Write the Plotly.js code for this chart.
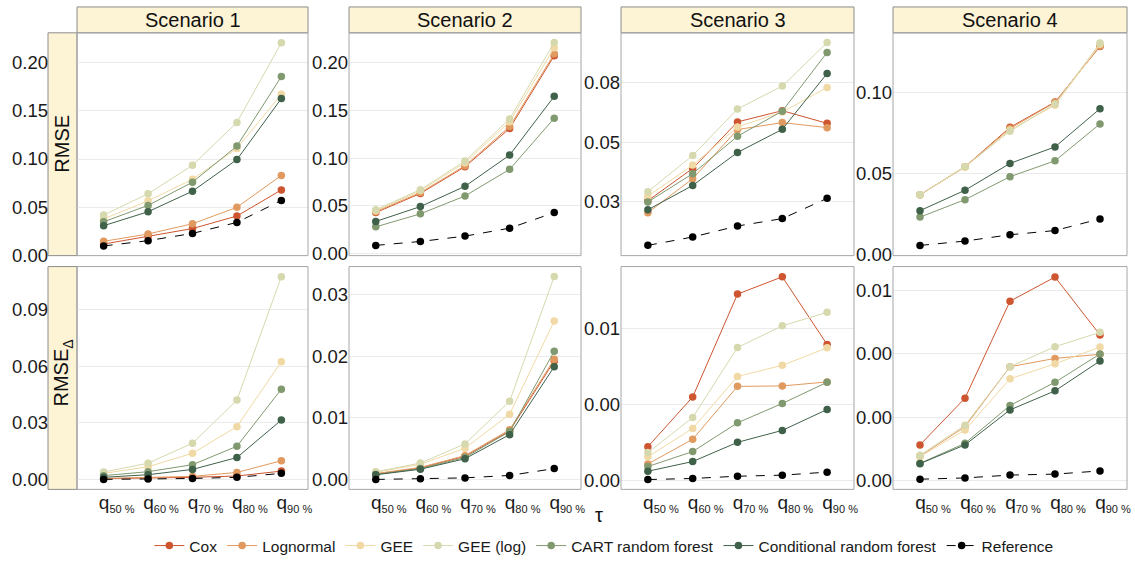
<!DOCTYPE html>
<html>
<head>
<meta charset="utf-8">
<script src="https://cdn.plot.ly/plotly-3.0.1.min.js"></script>
<style>html,body{margin:0;padding:0;background:#fff;}#chart{width:1135px;height:563px;}</style>
</head>
<body>
<div id="chart"></div>
<script>
// ---------- DATA ----------
const taus = ["50 %", "60 %", "70 %", "80 %", "90 %"];
const scenarios = ["Scenario 1", "Scenario 2", "Scenario 3", "Scenario 4"];
const metrics = ["RMSE", "RMSE<sub>Δ</sub>"];
const methods = ["Cox", "Lognormal", "GEE", "GEE (log)", "CART random forest", "Conditional random forest", "Reference"];

// RMSE, one row per scenario
const cox_rmse = [[0.012,0.020,0.028,0.041,0.068],[0.043,0.063,0.091,0.131,0.207],[0.0255,0.039,0.0585,0.0632,0.0579],[0.037,0.0543,0.0787,0.0943,0.1287]];
const lognormal_rmse = [[0.0148,0.0224,0.033,0.050,0.083],[0.044,0.064,0.092,0.133,0.209],[0.0205,0.0347,0.0553,0.0582,0.0561],[0.037,0.0543,0.078,0.094,0.129]];
const gee_rmse = [[0.038,0.0567,0.079,0.111,0.167],[0.045,0.066,0.095,0.138,0.2153],[0.0274,0.0404,0.0564,0.0626,0.0729],[0.037,0.054,0.0771,0.0923,0.130]];
const geelog_rmse = [[0.042,0.064,0.0935,0.1378,0.2203],[0.046,0.067,0.097,0.141,0.2208],[0.0293,0.0444,0.0639,0.0735,0.0917],[0.0371,0.0545,0.0763,0.0931,0.1308]];
const cart_rmse = [[0.035,0.052,0.076,0.1134,0.1853],[0.0281,0.0417,0.0604,0.0882,0.1417],[0.025,0.0368,0.0525,0.063,0.0876],[0.0232,0.034,0.0482,0.058,0.0808]];
const cond_rmse = [[0.031,0.0454,0.0667,0.0994,0.1626],[0.0337,0.0493,0.0705,0.1031,0.1646],[0.0217,0.0319,0.0457,0.0554,0.0788],[0.0272,0.0398,0.0564,0.0666,0.0902]];
const ref_rmse = [[0.010,0.0155,0.023,0.0344,0.0571],[0.0087,0.0128,0.0184,0.0267,0.043],[0.0068,0.0103,0.0149,0.018,0.0265],[0.0057,0.0084,0.0123,0.0149,0.0221]];

// RMSE_Delta, one row per scenario
const cox_delta = [[0.0004,0.0006,0.0011,0.0018,0.0044],[0.0009,0.0019,0.0038,0.0079,0.0192],[0.00221,0.0055,0.0123,0.01344,0.00897],[0.00113,0.0026,0.00565,0.00641,0.00459]];
const lognormal_delta = [[0.0005,0.0009,0.0016,0.0037,0.0099],[0.001,0.002,0.0039,0.0081,0.0195],[0.00107,0.0027,0.0062,0.00623,0.00649],[0.00078,0.0017,0.00359,0.00385,0.00398]];
const gee_delta = [[0.0032,0.0067,0.0139,0.028,0.0625],[0.0012,0.0025,0.0051,0.0106,0.0257],[0.00154,0.00342,0.00686,0.00759,0.00875],[0.00076,0.0016,0.00321,0.00368,0.00421]];
const geelog_delta = [[0.0039,0.0086,0.0192,0.0421,0.1076],[0.0013,0.0027,0.0058,0.0127,0.0329],[0.00182,0.00414,0.00877,0.0102,0.0111],[0.0008,0.00175,0.00359,0.00422,0.00467]];
const cart_delta = [[0.002,0.0041,0.0078,0.0176,0.0479],[0.00086,0.0018,0.0036,0.0078,0.0208],[0.0009,0.00189,0.00379,0.00507,0.00647],[0.00055,0.00118,0.00237,0.0031,0.00399]];
const cond_delta = [[0.0011,0.0025,0.0053,0.0116,0.0315],[0.0008,0.0017,0.0034,0.0073,0.0183],[0.00059,0.00123,0.0025,0.00329,0.00467],[0.00054,0.00113,0.00223,0.00283,0.00377]];
const ref_delta = [[0.0,0.0002,0.0005,0.0011,0.0032],[0.00005,0.00016,0.0003,0.0007,0.0018],[0.00004,0.00011,0.00026,0.00033,0.00053],[0.00005,0.00009,0.00018,0.00021,0.00031]];

// y tick values and labels (as printed, 2 decimals)
const rmse_tickvals = [[0,0.05,0.10,0.15,0.20],[0,0.05,0.10,0.15,0.20],[0.025,0.05,0.075],[0,0.05,0.10]];
const rmse_ticktext = [["0.00","0.05","0.10","0.15","0.20"],["0.00","0.05","0.10","0.15","0.20"],["0.03","0.05","0.08"],["0.00","0.05","0.10"]];
const delta_tickvals = [[0,0.03,0.06,0.09],[0,0.01,0.02,0.03],[0,0.005,0.01],[0,0.002,0.004,0.006]];
const delta_ticktext = [["0.00","0.03","0.06","0.09"],["0.00","0.01","0.02","0.03"],["0.00","0.00","0.01"],["0.00","0.00","0.00","0.01"]];

// ---------- STYLE ----------
const colors = ["#CD5530","#E0995E","#F0D9A4","#D6D8AE","#80996F","#3F6149","#000000"];
const FONT = "Liberation Sans, Arial, Helvetica, sans-serif";
const W = 1135, H = 563;
const colPx = [[77,308],[349,581],[621,854],[893,1127]];
const rowPx = [[33,257],[268,492]];
const yRanges = [
  [[0,0.2306],[-0.002,0.231],[0.0025,0.0958],[-0.0006,0.1371]],
  [[-0.0053,0.113],[-0.00156,0.0345],[-0.00061,0.01412],[-0.00027,0.00674]]
];
const rmseData = [cox_rmse, lognormal_rmse, gee_rmse, geelog_rmse, cart_rmse, cond_rmse, ref_rmse];
const deltaData = [cox_delta, lognormal_delta, gee_delta, geelog_delta, cart_delta, cond_delta, ref_delta];
const px2x = p => p / W;
const px2y = p => 1 - p / H;

const traces = [];
const layout = {
  width: W, height: H,
  margin: {l:0, r:0, t:0, b:0},
  paper_bgcolor: "#fff", plot_bgcolor: "#fff",
  font: {family: FONT, color: "#1a1a1a"},
  showlegend: true,
  legend: {orientation: "h", x: 0.532, xanchor: "center", y: px2y(549), yanchor: "middle",
           font: {size: 15.5, family: FONT, color: "#1a1a1a"}, traceorder: "normal", itemwidth: 30},
  shapes: [], annotations: []
};

const tickLabels = taus.map(t => "q<sub><span style='font-size:11px'>" + t + "</span></sub>");

for (let r = 0; r < 2; r++) {
  for (let c = 0; c < 4; c++) {
    const k = r * 4 + c + 1;
    const xa = "xaxis" + (k === 1 ? "" : k), ya = "yaxis" + (k === 1 ? "" : k);
    const xr = "x" + (k === 1 ? "" : k), yr = "y" + (k === 1 ? "" : k);
    layout[xa] = {
      domain: [px2x(colPx[c][0]), px2x(colPx[c][1])], anchor: yr,
      type: "category", range: [-0.6, 4.6], showgrid: false, zeroline: false,
      showline: false, ticks: "", tickvals: taus, ticktext: tickLabels, tickangle: 0,
      ticklabelshift: 13,
      showticklabels: r === 1, tickfont: {size: 19, family: FONT, color: "#1a1a1a"}
    };
    const yaxis = {
      domain: [px2y(rowPx[r][1]), px2y(rowPx[r][0])], anchor: xr,
      range: yRanges[r][c], showgrid: true, gridcolor: "#EBEBEB", gridwidth: 1,
      zeroline: false, showline: false, ticks: "",
      tickvals: r === 0 ? rmse_tickvals[c] : delta_tickvals[c],
      ticktext: r === 0 ? rmse_ticktext[c] : delta_ticktext[c],
      tickfont: {size: 18.5, family: FONT, color: "#1a1a1a"}
    };
    if (c === 0) { yaxis.anchor = "free"; yaxis.position = px2x(48); }
    layout[ya] = yaxis;

    const data = r === 0 ? rmseData : deltaData;
    for (let m = 0; m < methods.length; m++) {
      const isRef = m === 6;
      traces.push({
        type: "scatter", mode: "lines+markers",
        x: taus, y: data[m][c], xaxis: xr, yaxis: yr,
        name: methods[m], legendgroup: methods[m], showlegend: k === 1,
        line: {color: colors[m], width: 1, dash: isRef ? "dash" : "solid"},
        marker: {color: colors[m], size: 7.5},
        hoverinfo: "x+y+name"
      });
    }

    layout.shapes.push({type: "rect", xref: "paper", yref: "paper",
      x0: px2x(colPx[c][0]), x1: px2x(colPx[c][1]), y0: px2y(rowPx[r][1]), y1: px2y(rowPx[r][0]),
      line: {color: "#A6A6A6", width: 1}, fillcolor: "rgba(0,0,0,0)", layer: "above"});
  }
}

for (let c = 0; c < 4; c++) {
  layout.shapes.push({type: "rect", xref: "paper", yref: "paper",
    x0: px2x(colPx[c][0]), x1: px2x(colPx[c][1]), y0: px2y(33), y1: px2y(7),
    line: {color: "#8C8C8C", width: 1}, fillcolor: "#FDF3D5", layer: "below"});
  layout.annotations.push({xref: "paper", yref: "paper",
    x: px2x((colPx[c][0] + colPx[c][1]) / 2), y: px2y(20.5), text: scenarios[c],
    showarrow: false, xanchor: "center", yanchor: "middle",
    font: {size: 20, family: FONT, color: "#111"}});
}
for (let r = 0; r < 2; r++) {
  layout.shapes.push({type: "rect", xref: "paper", yref: "paper",
    x0: px2x(48), x1: px2x(77), y0: px2y(rowPx[r][1]), y1: px2y(rowPx[r][0]),
    line: {color: "#8C8C8C", width: 1}, fillcolor: "#FDF3D5", layer: "below"});
  layout.annotations.push({xref: "paper", yref: "paper",
    x: px2x(62.5), y: px2y(r === 0 ? 145 : 375), text: metrics[r], textangle: -90,
    showarrow: false, xanchor: "center", yanchor: "middle",
    font: {size: 20, family: FONT, color: "#111"}});
}
layout.annotations.push({xref: "paper", yref: "paper", x: px2x(599), y: px2y(518),
  text: "τ", showarrow: false, xanchor: "center", yanchor: "middle",
  font: {size: 20, family: FONT, color: "#111"}});

Plotly.newPlot("chart", traces, layout, {displayModeBar: false, staticPlot: true});
</script>
</body>
</html>
